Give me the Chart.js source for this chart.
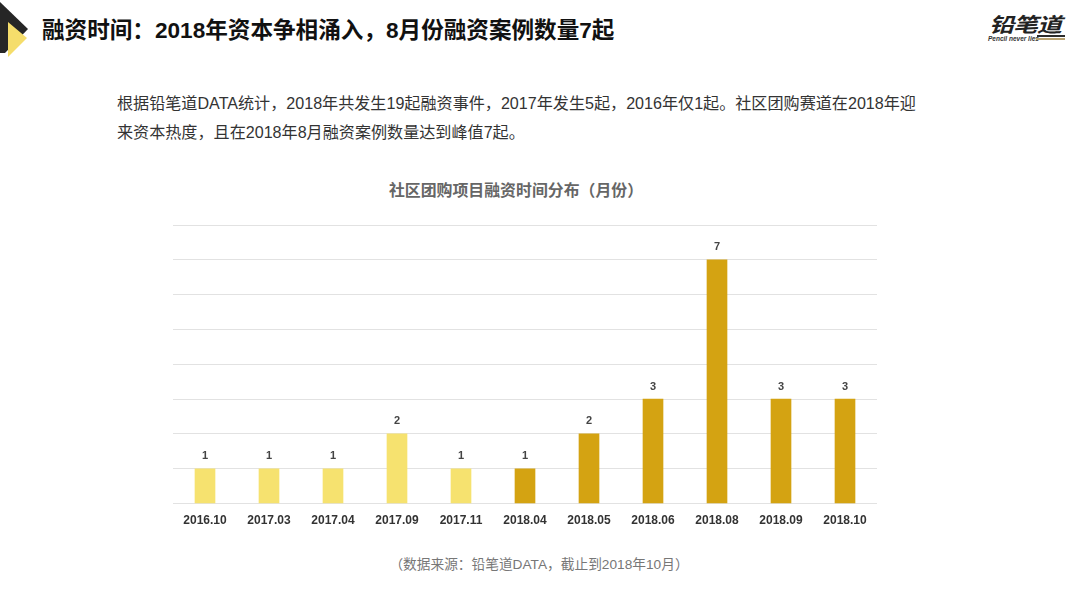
<!DOCTYPE html>
<html>
<head>
<meta charset="utf-8">
<script src="https://cdn.jsdelivr.net/npm/chart.js@4/dist/chart.umd.min.js"></script>
<style>
  html, body { margin: 0; padding: 0; background: #fff; }
  body { width: 1080px; height: 608px; position: relative; overflow: hidden;
         font-family: "Liberation Sans", "Noto Sans CJK SC", sans-serif; }
  .abs { position: absolute; white-space: nowrap; }
  #heading { left: 42px; top: 17px; font-size: 22.6px; line-height: 28px; font-weight: bold; color: #111; }
  #intro { left: 117px; top: 89px; font-size: 16.1px; line-height: 29px; color: #333; }
  #title { left: 176px; width: 680px; top: 181px; text-align: center; font-size: 15.9px; line-height: 20px; font-weight: bold; color: #666; }
  #source { left: 199px; width: 680px; top: 556px; text-align: center; font-size: 13.7px; line-height: 18px; color: #777; }
  #logo { left: 989px; top: 11px; font-size: 25px; line-height: 28px; font-weight: bold; font-style: italic; color: #222; letter-spacing: -1px; transform: scaleY(.8); }
  #motto { left: 988px; top: 36px; font-size: 6.5px; line-height: 6px; font-weight: bold; font-style: italic; color: #333; }
  #logoLine1 { left: 1037px; top: 35px; width: 28px; height: 2px; background: #2b2b2b; }
  #logoLine2 { left: 1036px; top: 38px; width: 29px; height: 2px; background: #b9a271; }
  #icon { left: 0; top: 0; }
  #chartBox { position: absolute; left: 173px; top: 210px; width: 704px; height: 320px; }
</style>
</head>
<body>
<svg id="icon" class="abs" width="30" height="60" viewBox="0 0 30 60">
  <polygon points="0,2 28,29 5,53 0,53" fill="#262626"/>
  <polygon points="8,22 27,38 8,57" fill="#f5dd6b"/>
</svg>
<div id="heading" class="abs">融资时间：2018年资本争相涌入，8月份融资案例数量7起</div>
<div id="logo" class="abs">铅笔道</div>
<div id="motto" class="abs">Pencil never lies</div>
<div id="logoLine1" class="abs"></div>
<div id="logoLine2" class="abs"></div>
<div id="intro" class="abs">根据铅笔道DATA统计，2018年共发生19起融资事件，2017年发生5起，2016年仅1起。社区团购赛道在2018年迎<br>来资本热度，且在2018年8月融资案例数量达到峰值7起。</div>
<div id="title" class="abs">社区团购项目融资时间分布（月份）</div>
<div id="chartBox"><canvas id="chart"></canvas></div>
<div id="source" class="abs">（数据来源：铅笔道DATA，截止到2018年10月）</div>

<script>
const months = ["2016.10", "2017.03", "2017.04", "2017.09", "2017.11", "2018.04", "2018.05", "2018.06", "2018.08", "2018.09", "2018.10"]
const deals = [1, 1, 1, 2, 1, 1, 2, 3, 7, 3, 3]

// value labels on top of the bars
const barLabels = {
  id: "barLabels",
  afterDatasetsDraw(chart) {
    const ctx = chart.ctx
    ctx.save()
    ctx.font = "bold 11px 'Liberation Sans'"
    ctx.fillStyle = "#444"
    ctx.textAlign = "center"
    ctx.textBaseline = "bottom"
    chart.getDatasetMeta(0).data.forEach((bar, i) => {
      ctx.fillText(deals[i], bar.x, bar.y - 7)
    })
    ctx.restore()
  }
}

new Chart(document.getElementById("chart"), {
  type: "bar",
  data: {
    labels: months,
    datasets: [{
      data: deals,
      barThickness: 20,
      backgroundColor: ctx => months[ctx.dataIndex].startsWith("2018") ? "#d4a312" : "#f6e26f"
    }]
  },
  options: {
    animation: false,
    responsive: true,
    maintainAspectRatio: false,
    layout: { padding: { top: 15, left: 0, right: 0, bottom: 0 } },
    plugins: { legend: { display: false }, tooltip: { enabled: false } },
    scales: {
      x: {
        grid: { display: false },
        border: { display: false },
        ticks: { color: "#333", font: { family: "Liberation Sans", size: 12, weight: "bold" }, padding: 2, maxRotation: 0, autoSkip: false }
      },
      y: {
        min: 0,
        max: 8,
        afterFit: axis => { axis.width = 0 },
        grid: { color: "#e2e2e2", drawTicks: false },
        border: { display: false },
        ticks: { display: false, stepSize: 1 }
      }
    }
  },
  plugins: [barLabels]
})
</script>
</body>
</html>
